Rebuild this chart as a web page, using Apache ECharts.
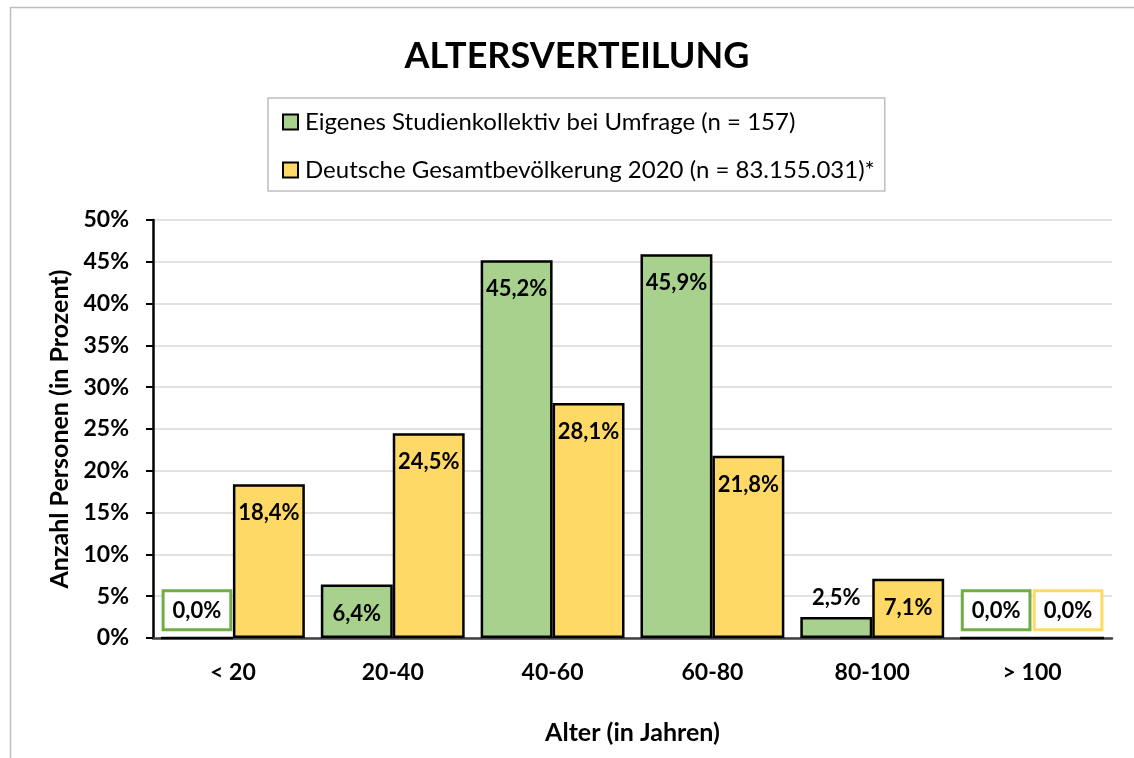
<!DOCTYPE html>
<html>
<head>
<meta charset="utf-8">
<script src="https://cdn.jsdelivr.net/npm/echarts@6/dist/echarts.min.js"></script>
<style>html,body{margin:0;padding:0;background:#fff}#c{width:1134px;height:758px}</style>
</head>
<body>
<div id="c"></div>
<script>
const categories = ['< 20', '20-40', '40-60', '60-80', '80-100', '> 100'];
const studyValues = [0.0, 6.4, 45.2, 45.9, 2.5, 0.0];
const populationValues = [18.4, 24.5, 28.1, 21.8, 7.1, 0.0];
const seriesNames = ['Eigenes Studienkollektiv bei Umfrage (n = 157)', 'Deutsche Gesamtbevölkerung 2020 (n = 83.155.031)*'];

const FONT = 'Lato';
const GREEN = '#A9D18E', YELLOW = '#FFD966';
const GREEN_BORDER = '#70AD47', YELLOW_BORDER = '#FFD966';

function fmt(v){ return v.toFixed(1).replace('.', ',') + '%'; }

function buildData(values, zeroBorder){
  return values.map(v => {
    if (v === 0) {
      return { value: v, label: { position: 'insideBottom', distance: 11, backgroundColor: '#fff', borderColor: zeroBorder, borderWidth: 3, padding: [8, 8, 6, 8] } };
    }
    if (v < 4) {
      return { value: v, label: { position: 'top', distance: 8 } };
    }
    return { value: v };
  });
}

const labelBase = {
  show: true, position: 'insideTop', distance: 18,
  color: '#000', fontFamily: FONT, fontWeight: 'bold', fontSize: 22,
  formatter: p => fmt(p.value)
};

const chart = echarts.init(document.getElementById('c'), null, {renderer: 'canvas'});
chart.setOption({
  animation: false,
  backgroundColor: '#fff',
  graphic: [{
    type: 'rect', left: 8, top: 5, silent: true,
    shape: { x: 0, y: 0, width: 1140, height: 770 },
    style: { fill: 'none', stroke: '#BFBFBF', lineWidth: 1.5 }
  }],
  title: {
    text: 'ALTERSVERTEILUNG', left: 572, top: 33, textAlign: 'center',
    textStyle: { fontFamily: FONT, fontWeight: 'bold', fontSize: 36, color: '#000' }
  },
  legend: {
    orient: 'vertical', left: 268, top: 98,
    padding: [10, 10, 7, 14],
    borderColor: '#BFBFBF', borderWidth: 1.5,
    itemWidth: 15, itemHeight: 15, itemGap: 20,
    icon: 'rect',
    textStyle: { fontFamily: FONT, fontSize: 24, lineHeight: 28, color: '#000', padding: [0, 0, 0, 2] },
    data: seriesNames
  },
  grid: { left: 153, right: 22, top: 220, bottom: 120, containLabel: false },
  xAxis: {
    type: 'category', data: categories,
    name: 'Alter (in Jahren)', nameLocation: 'middle', nameGap: 82,
    nameTextStyle: { fontFamily: FONT, fontWeight: 'bold', fontSize: 25, color: '#000' },
    axisLine: { lineStyle: { color: '#404040', width: 2.5 } },
    axisTick: { show: false },
    axisLabel: { fontFamily: FONT, fontWeight: 'bold', fontSize: 23, color: '#000', margin: 23 }
  },
  yAxis: {
    type: 'value', min: 0, max: 50, interval: 5,
    name: 'Anzahl Personen (in Prozent)', nameLocation: 'middle', nameGap: 78, nameRotate: 90,
    nameTextStyle: { fontFamily: FONT, fontWeight: 'bold', fontSize: 25, color: '#000' },
    axisLine: { show: true, lineStyle: { color: '#000', width: 2.5 } },
    axisTick: { show: true, length: 7, lineStyle: { color: '#000', width: 2 } },
    axisLabel: { fontFamily: FONT, fontWeight: 'bold', fontSize: 23, color: '#000', margin: 24, formatter: '{value}%' },
    splitLine: { lineStyle: { color: '#D9D9D9', width: 1.5 } }
  },
  series: [
    {
      name: seriesNames[0], type: 'bar', barGap: '0%', barCategoryGap: '10%',
      itemStyle: { color: GREEN, borderColor: '#000', borderWidth: 2.5 },
      label: labelBase,
      data: buildData(studyValues, GREEN_BORDER)
    },
    {
      name: seriesNames[1], type: 'bar', barGap: '0%', barCategoryGap: '10%',
      itemStyle: { color: YELLOW, borderColor: '#000', borderWidth: 2.5 },
      label: labelBase,
      data: buildData(populationValues, YELLOW_BORDER)
    }
  ]
});
</script>
</body>
</html>
